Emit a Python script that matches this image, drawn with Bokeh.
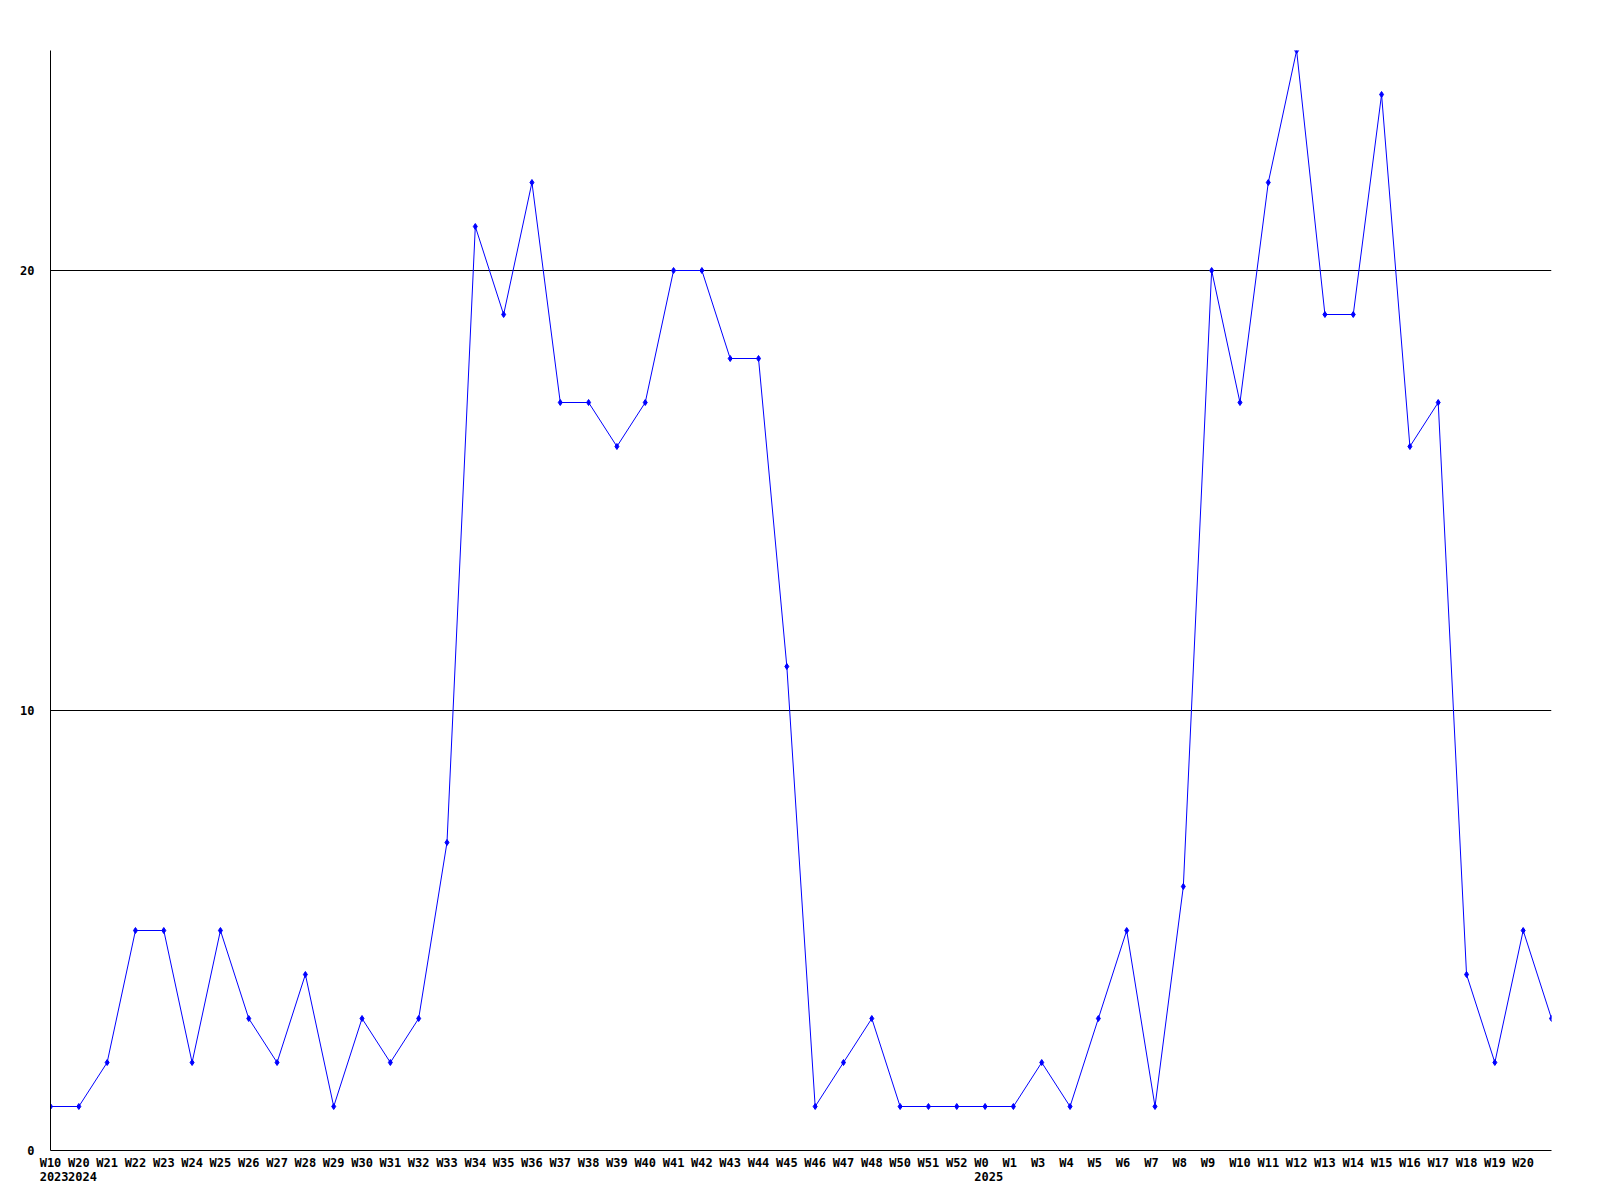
from bokeh.plotting import figure
from bokeh.models import LinearAxis, FixedTicker, CustomJSTickFormatter, Range1d
from bokeh.embed import file_html
from bokeh.resources import INLINE

# ---- data ----
week_labels = ["W10", "W20", "W21", "W22", "W23", "W24", "W25", "W26", "W27", "W28",
               "W29", "W30", "W31", "W32", "W33", "W34", "W35", "W36", "W37", "W38",
               "W39", "W40", "W41", "W42", "W43", "W44", "W45", "W46", "W47", "W48",
               "W50", "W51", "W52", "W0", "W1", "W3", "W4", "W5", "W6", "W7",
               "W8", "W9", "W10", "W11", "W12", "W13", "W14", "W15", "W16", "W17",
               "W18", "W19", "W20"]
values = [1, 1, 2, 5, 5, 2, 5, 3, 2, 4,
          1, 3, 2, 3, 7, 21, 19, 22, 17, 17,
          16, 17, 20, 20, 18, 18, 11, 1, 2, 3,
          1, 1, 1, 1, 1, 2, 1, 3, 5, 1,
          6, 20, 17, 22, 25, 19, 19, 24, 16, 17,
          4, 2, 5, 3]
year_labels = ["2023", "2024", "2025"]
year_start_index = [0, 1, 33]
y_ticks = [0, 10, 20]
y_max = 25

# ---- layout / style ----
FONT = "DejaVu Sans Mono"
FRAME_W, FRAME_H = 1501, 1100
n = len(values)
xs = list(range(n))
px_per_unit = FRAME_W / (n - 1)
char_w = 12 * 0.602
half_char = 0.5 * char_w / px_per_unit

p = figure(frame_width=FRAME_W, frame_height=FRAME_H,
           output_backend="svg", toolbar_location=None,
           x_range=Range1d(0, n - 1), y_range=Range1d(0, y_max),
           min_border_left=50, min_border_top=50, min_border_right=33,
           min_border_bottom=34)
p.outline_line_color = None
p.background_fill_color = "white"
p.border_fill_color = "white"

# x axis (week labels); 2-char labels are placed like 3-char labels (left-aligned origin)
week_ticks = [i - (half_char if len(lbl) == 2 else 0.0) for i, lbl in enumerate(week_labels)]
xa = p.xaxis[0]
xa.ticker = FixedTicker(ticks=week_ticks)
xa.formatter = CustomJSTickFormatter(args=dict(labels=week_labels), code="return labels[index];")
xa.major_tick_out = 0
xa.major_tick_in = 0
xa.minor_tick_line_color = None
xa.axis_line_color = "black"
xa.major_label_standoff = 5
xa.major_label_text_font = FONT
xa.major_label_text_font_style = "bold"
xa.major_label_text_font_size = "12px"
xa.major_label_text_color = "black"

# second x axis (years)
year_ticks = [s + half_char for s in year_start_index]
ya2 = LinearAxis(ticker=FixedTicker(ticks=year_ticks),
                 formatter=CustomJSTickFormatter(args=dict(labels=year_labels), code="return labels[index];"),
                 axis_line_color=None, major_tick_line_color=None, minor_tick_line_color=None,
                 major_tick_out=0, major_tick_in=0, major_label_standoff=-1,
                 major_label_text_font=FONT, major_label_text_font_style="bold",
                 major_label_text_font_size="12px", major_label_text_color="black")
p.add_layout(ya2, "below")

# y axis
ya = p.yaxis[0]
ya.ticker = FixedTicker(ticks=y_ticks)
ya.major_tick_out = 0
ya.major_tick_in = 0
ya.minor_tick_line_color = None
ya.axis_line_color = "black"
ya.major_label_standoff = 16
ya.major_label_text_font = FONT
ya.major_label_text_font_style = "bold"
ya.major_label_text_font_size = "12px"
ya.major_label_text_color = "black"

p.xgrid.visible = False
p.ygrid.grid_line_color = "black"
p.ygrid.grid_line_width = 1

p.line(xs, values, line_color="#0000ff", line_width=1)
p.scatter(xs, values, marker="diamond", size=6, color="#0000ff")

open("out.html", "w").write(file_html(p, INLINE))
